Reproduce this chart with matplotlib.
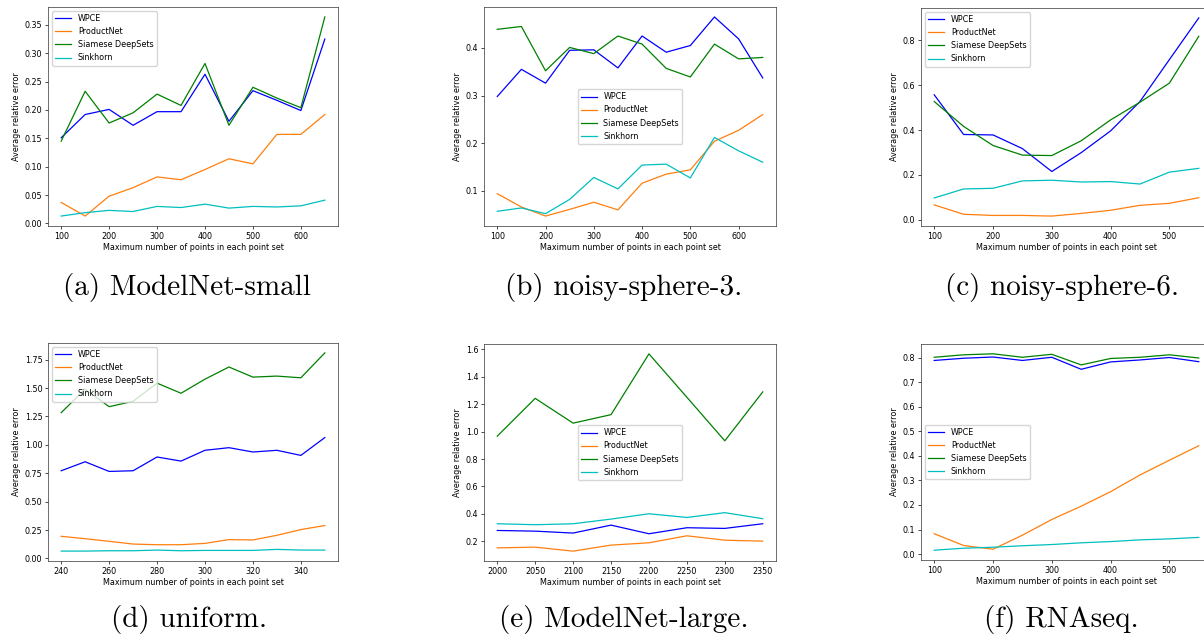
import matplotlib
matplotlib.use("Agg")
import matplotlib.pyplot as plt
from matplotlib.ticker import MultipleLocator

methods = ["WPCE", "ProductNet", "Siamese DeepSets", "Sinkhorn"]
colors = ["#0000ff", "#ff7f0e", "#008000", "#00bfbf"]

# (a) ModelNet-small
x_a = [100, 150, 200, 250, 300, 350, 400, 450, 500, 550, 600, 650]
wpce_a = [0.151, 0.192, 0.201, 0.173, 0.197, 0.197, 0.263, 0.180, 0.234, 0.217, 0.199, 0.325]
prod_a = [0.037, 0.013, 0.048, 0.063, 0.082, 0.077, 0.095, 0.114, 0.105, 0.157, 0.157, 0.192]
siam_a = [0.145, 0.233, 0.177, 0.195, 0.228, 0.208, 0.282, 0.173, 0.240, 0.221, 0.204, 0.364]
sink_a = [0.013, 0.019, 0.023, 0.021, 0.030, 0.028, 0.034, 0.027, 0.030, 0.029, 0.031, 0.041]

# (b) noisy-sphere-3
x_b = [100, 150, 200, 250, 300, 350, 400, 450, 500, 550, 600, 650]
wpce_b = [0.298, 0.355, 0.326, 0.395, 0.396, 0.358, 0.425, 0.391, 0.405, 0.465, 0.419, 0.337]
prod_b = [0.094, 0.066, 0.047, 0.061, 0.076, 0.060, 0.116, 0.135, 0.144, 0.204, 0.227, 0.260]
siam_b = [0.439, 0.445, 0.352, 0.401, 0.388, 0.425, 0.408, 0.357, 0.339, 0.408, 0.377, 0.380]
sink_b = [0.057, 0.064, 0.052, 0.082, 0.128, 0.104, 0.154, 0.156, 0.127, 0.212, 0.184, 0.160]

# (c) noisy-sphere-6
x_c = [100, 150, 200, 250, 300, 350, 400, 450, 500, 550]
wpce_c = [0.557, 0.380, 0.378, 0.317, 0.215, 0.299, 0.396, 0.527, 0.714, 0.900]
prod_c = [0.066, 0.024, 0.019, 0.019, 0.016, 0.028, 0.042, 0.064, 0.073, 0.098]
siam_c = [0.527, 0.416, 0.331, 0.288, 0.286, 0.352, 0.445, 0.524, 0.609, 0.818]
sink_c = [0.097, 0.137, 0.140, 0.173, 0.176, 0.168, 0.170, 0.159, 0.212, 0.229]

# (d) uniform
x_d = [240, 250, 260, 270, 280, 290, 300, 310, 320, 330, 340, 350]
wpce_d = [0.772, 0.851, 0.766, 0.772, 0.893, 0.857, 0.952, 0.975, 0.937, 0.952, 0.907, 1.064]
prod_d = [0.195, 0.174, 0.151, 0.127, 0.121, 0.121, 0.133, 0.166, 0.163, 0.204, 0.254, 0.290]
siam_d = [1.283, 1.490, 1.336, 1.383, 1.543, 1.454, 1.578, 1.685, 1.596, 1.605, 1.590, 1.809]
sink_d = [0.065, 0.065, 0.068, 0.068, 0.074, 0.068, 0.071, 0.071, 0.071, 0.080, 0.074, 0.074]

# (e) ModelNet-large
x_e = [2000, 2050, 2100, 2150, 2200, 2250, 2300, 2350]
wpce_e = [0.278, 0.273, 0.259, 0.317, 0.254, 0.298, 0.293, 0.327]
prod_e = [0.151, 0.156, 0.127, 0.171, 0.188, 0.239, 0.207, 0.200]
siam_e = [0.967, 1.243, 1.062, 1.124, 1.568, 1.251, 0.933, 1.290]
sink_e = [0.327, 0.320, 0.327, 0.361, 0.400, 0.373, 0.408, 0.364]

# (f) RNAseq
x_f = [100, 150, 200, 250, 300, 350, 400, 450, 500, 550]
wpce_f = [0.788, 0.797, 0.802, 0.788, 0.801, 0.752, 0.782, 0.790, 0.800, 0.783]
prod_f = [0.083, 0.035, 0.020, 0.077, 0.141, 0.195, 0.254, 0.322, 0.382, 0.441]
siam_f = [0.801, 0.811, 0.815, 0.801, 0.813, 0.770, 0.796, 0.801, 0.811, 0.798]
sink_f = [0.016, 0.024, 0.028, 0.034, 0.039, 0.046, 0.051, 0.058, 0.062, 0.068]

panels = [
    (x_a, [wpce_a, prod_a, siam_a, sink_a], "upper left", 100, 0.05, "(a) ModelNet-small"),
    (x_b, [wpce_b, prod_b, siam_b, sink_b], "center", 100, 0.1, "(b) noisy-sphere-3."),
    (x_c, [wpce_c, prod_c, siam_c, sink_c], "upper left", 100, 0.2, "(c) noisy-sphere-6."),
    (x_d, [wpce_d, prod_d, siam_d, sink_d], "upper left", 20, 0.25, "(d) uniform."),
    (x_e, [wpce_e, prod_e, siam_e, sink_e], "center", 50, 0.2, "(e) ModelNet-large."),
    (x_f, [wpce_f, prod_f, siam_f, sink_f], "center left", 100, 0.1, "(f) RNAseq."),
]

W, H = 1204, 639
# axes boxes in pixels: left, top, width, height
boxes = [
    (48, 7, 290, 219), (484, 7, 292, 219), (921, 8, 291, 218),
    (48, 343, 290, 218), (484, 344, 292, 217), (921, 344, 291, 216),
]
caption_pos = [(187, 287), (624, 287), (1062, 287), (189, 619), (624, 619), (1061, 619)]

fs = 5.8
plt.rcParams["font.size"] = fs
plt.rcParams["axes.linewidth"] = 0.5
plt.rcParams["xtick.major.width"] = 0.5
plt.rcParams["ytick.major.width"] = 0.5
plt.rcParams["xtick.major.size"] = 2.0
plt.rcParams["ytick.major.size"] = 2.0
plt.rcParams["xtick.major.pad"] = 2.0
plt.rcParams["ytick.major.pad"] = 2.0

fig = plt.figure(figsize=(W / 100, H / 100), dpi=100)

for (xs, ys, loc, xstep, ystep, cap), (l, t, w, h), (cx, cy) in zip(panels, boxes, caption_pos):
    ax = fig.add_axes([l / W, 1 - (t + h) / H, w / W, h / H])
    for name, col, vals in zip(methods, colors, ys):
        ax.plot(xs, vals, color=col, lw=0.9, label=name)
    ax.xaxis.set_major_locator(MultipleLocator(xstep))
    ax.yaxis.set_major_locator(MultipleLocator(ystep))
    ax.set_xlabel("Maximum number of points in each point set", labelpad=2)
    ax.set_ylabel("Average relative error", labelpad=2.5)
    ax.legend(loc=loc, fontsize=fs, handlelength=2.0, borderpad=0.4, labelspacing=0.5)
    for s in ax.spines.values():
        s.set_color("#333333")
    fig.text(cx / W, 1 - cy / H, cap, ha="center", va="center", fontsize=21, family="cmr10")

fig.savefig("out.png", dpi=100)
